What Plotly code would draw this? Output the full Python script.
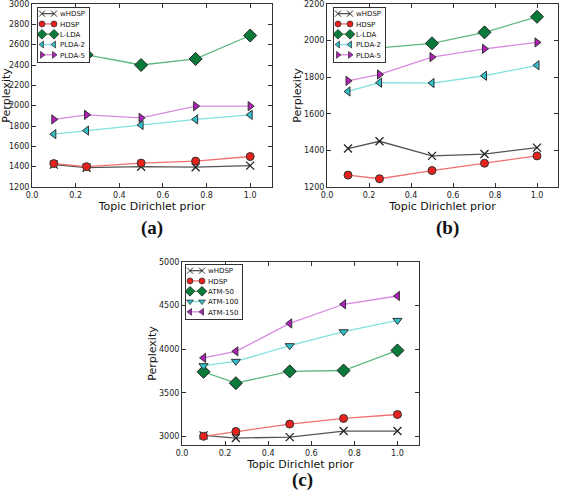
import plotly.graph_objects as go

W, H = 568, 491
x_prior = [0.1, 0.25, 0.5, 0.75, 1.0]

# Panel (a)
a_whdsp = [1420, 1390, 1400, 1395, 1410]
a_hdsp = [1430, 1400, 1435, 1455, 1500]
a_llda = [2560, 2500, 2400, 2460, 2690]
a_plda2 = [1720, 1755, 1810, 1865, 1910]
a_plda5 = [1865, 1910, 1880, 1995, 1995]

# Panel (b)
b_whdsp = [1410, 1450, 1370, 1380, 1415]
b_hdsp = [1265, 1245, 1290, 1330, 1370]
b_llda = [1950, 1960, 1985, 2045, 2130]
b_plda2 = [1722, 1770, 1768, 1808, 1865]
b_plda5 = [1780, 1815, 1910, 1955, 1990]

# Panel (c)
c_whdsp = [3010, 2980, 2990, 3060, 3060]
c_hdsp = [3000, 3055, 3140, 3205, 3250]
c_atm50 = [3740, 3610, 3745, 3755, 3985]
c_atm100 = [3810, 3860, 4040, 4200, 4330]
c_atm150 = [3900, 3975, 4295, 4515, 4610]

x_ticks = [0.0, 0.2, 0.4, 0.6, 0.8, 1.0]
x_ticklabels = ["0.0", "0.2", "0.4", "0.6", "0.8", "1.0"]

STY = {
    "black": dict(line="#555555", fill="#333333", edge="#222222"),
    "red": dict(line="#f07070", fill="#e8221c", edge="#333333"),
    "green": dict(line="#5cb87f", fill="#0a7a3a", edge="#222222"),
    "cyan": dict(line="#80e0e0", fill="#30c0c8", edge="#333333"),
    "magenta": dict(line="#d88ae0", fill="#b020b8", edge="#333333"),
}

fig = go.Figure()


def add(xa, ya, leg, name, ys, color, symbol, size):
    s = STY[color]
    if symbol == "x-thin":
        marker = dict(symbol="x-thin", size=size, line=dict(color=s["edge"], width=1.3), color=s["edge"])
    else:
        marker = dict(symbol=symbol, size=size, color=s["fill"], line=dict(color=s["edge"], width=1))
    fig.add_trace(go.Scatter(x=x_prior, y=ys, name=name, mode="lines+markers",
                             line=dict(color=s["line"], width=1.3), marker=marker,
                             xaxis=xa, yaxis=ya, legend=leg))


add("x", "y", "legend", "wHDSP", a_whdsp, "black", "x-thin", 8)
add("x", "y", "legend", "HDSP", a_hdsp, "red", "circle", 8)
add("x", "y", "legend", "L-LDA", a_llda, "green", "diamond", 10)
add("x", "y", "legend", "PLDA-2", a_plda2, "cyan", "triangle-left", 8)
add("x", "y", "legend", "PLDA-5", a_plda5, "magenta", "triangle-right", 8)

add("x2", "y2", "legend2", "wHDSP", b_whdsp, "black", "x-thin", 8)
add("x2", "y2", "legend2", "HDSP", b_hdsp, "red", "circle", 8)
add("x2", "y2", "legend2", "L-LDA", b_llda, "green", "diamond", 10)
add("x2", "y2", "legend2", "PLDA-2", b_plda2, "cyan", "triangle-left", 8)
add("x2", "y2", "legend2", "PLDA-5", b_plda5, "magenta", "triangle-right", 8)

add("x3", "y3", "legend3", "wHDSP", c_whdsp, "black", "x-thin", 8)
add("x3", "y3", "legend3", "HDSP", c_hdsp, "red", "circle", 8)
add("x3", "y3", "legend3", "ATM-50", c_atm50, "green", "diamond", 10)
add("x3", "y3", "legend3", "ATM-100", c_atm100, "cyan", "triangle-down", 8)
add("x3", "y3", "legend3", "ATM-150", c_atm150, "magenta", "triangle-left", 8)

tickfont = dict(family="DejaVu Sans", size=8, color="#222222")
titlefont = dict(family="DejaVu Sans", size=11, color="#111111")


def xaxis(domain, anchor):
    return dict(domain=domain, anchor=anchor, range=[0, 1.1], tickvals=x_ticks, ticktext=x_ticklabels,
                ticks="inside", ticklen=4, tickcolor="#333", showline=True, linecolor="#333", linewidth=1,
                mirror="ticks", showgrid=False, zeroline=False, tickfont=tickfont, automargin=False,
                ticklabeloverflow="allow",
                title=dict(text="Topic Dirichlet prior", font=titlefont, standoff=1))


def yaxis(domain, anchor, rng, dtick, tick0):
    return dict(domain=domain, anchor=anchor, range=rng, dtick=dtick, tick0=tick0,
                ticks="inside", ticklen=4, tickcolor="#333", showline=True, linecolor="#333", linewidth=1,
                mirror="ticks", showgrid=False, zeroline=False, tickfont=tickfont, automargin=False,
                ticklabeloverflow="allow",
                title=dict(text="Perplexity", font=titlefont, standoff=0))


def px(v):
    return v / W


def py(v):
    return 1 - v / H


legfont = dict(family="DejaVu Sans", size=7, color="#111111")


def legend(xp, yp):
    return dict(x=px(xp), y=py(yp), xanchor="left", yanchor="top", bgcolor="white",
                bordercolor="#333", borderwidth=1, font=legfont, itemwidth=30, tracegroupgap=0)


def panel_label(text, xp, yp):
    return dict(text="<b>" + text + "</b>", x=px(xp), y=py(yp), xref="paper", yref="paper",
                xanchor="center", yanchor="middle", showarrow=False,
                font=dict(family="Liberation Serif", size=19, color="#111"))


fig.update_layout(
    width=W, height=H, margin=dict(l=0, r=0, t=0, b=0, autoexpand=False),
    paper_bgcolor="white", plot_bgcolor="white",
    xaxis=xaxis([px(32), px(272)], "y"),
    yaxis=yaxis([py(187), py(4)], "x", [1200, 3000], 200, 1200),
    xaxis2=xaxis([px(327), px(558)], "y2"),
    yaxis2=yaxis([py(187), py(4)], "x2", [1200, 2200], 200, 1200),
    xaxis3=xaxis([px(182), px(419)], "y3"),
    yaxis3=yaxis([py(445), py(262)], "x3", [2900, 5000], 500, 3000),
    legend=legend(37, 7),
    legend2=legend(333, 7),
    legend3=legend(185, 264),
    annotations=[
        panel_label("(a)", 152, 228),
        panel_label("(b)", 447, 228),
        panel_label("(c)", 302, 480),
    ],
)

# Compact matplotlib-style legend rows (row pitch ~10px, two sample markers) after drawing.
post_js = r"""
document.body.style.margin = '0';
var gd = document.getElementById('{plot_id}');
function compactLegends() {
  var layer = gd.querySelector('.infolayer');
  if (!layer) return;
  Array.prototype.forEach.call(layer.children, function (lg) {
    var c = lg.getAttribute('class') || '';
    if (!/^legend\d*$/.test(c)) return;
    var rowH = 10.3, pad = 1.5;
    var items = lg.querySelectorAll('g.traces');
    var maxRight = 0;
    items.forEach(function (it, i) {
      it.setAttribute('transform', 'translate(1,' + (pad + rowH / 2 + i * rowH) + ')');
      var ln = it.querySelector('path.js-line');
      if (ln) ln.setAttribute('d', 'M4,0h12');
      var pts = it.querySelectorAll('path.scatterpts');
      if (pts.length === 1) {
        var cl = pts[0].cloneNode(true);
        pts[0].parentNode.appendChild(cl);
        pts = it.querySelectorAll('path.scatterpts');
      }
      if (pts.length >= 2) {
        pts[0].setAttribute('transform', 'translate(4,0) scale(0.75)');
        pts[1].setAttribute('transform', 'translate(16,0) scale(0.75)');
      }
      var tx = it.querySelector('text.legendtext') || it.querySelector('text');
      if (tx) {
        tx.setAttribute('x', 22);
        tx.querySelectorAll('tspan').forEach(function (t) { if (t.hasAttribute('x')) t.setAttribute('x', 22); });
        var w = 0;
        try { w = tx.getBBox().width; } catch (e) { w = 0; }
        if (!w) { try { w = tx.getComputedTextLength(); } catch (e) { w = 30; } }
        maxRight = Math.max(maxRight, 22 + w);
      }
      var tg = it.querySelector('rect.legendtoggle');
      if (tg) { tg.setAttribute('height', rowH); tg.setAttribute('y', -rowH / 2); }
    });
    var bg = lg.querySelector('rect.bg');
    if (bg) {
      bg.setAttribute('width', Math.max(maxRight + 5, 40));
      bg.setAttribute('height', pad * 2 + rowH * items.length);
    }
  });
}
compactLegends();
setTimeout(compactLegends, 30);
setTimeout(compactLegends, 200);
setTimeout(compactLegends, 600);
if (gd.on) gd.on('plotly_afterplot', function () { setTimeout(compactLegends, 0); });
"""

fig.write_html("out.html", post_script=post_js, config={"displayModeBar": False, "staticPlot": False})
